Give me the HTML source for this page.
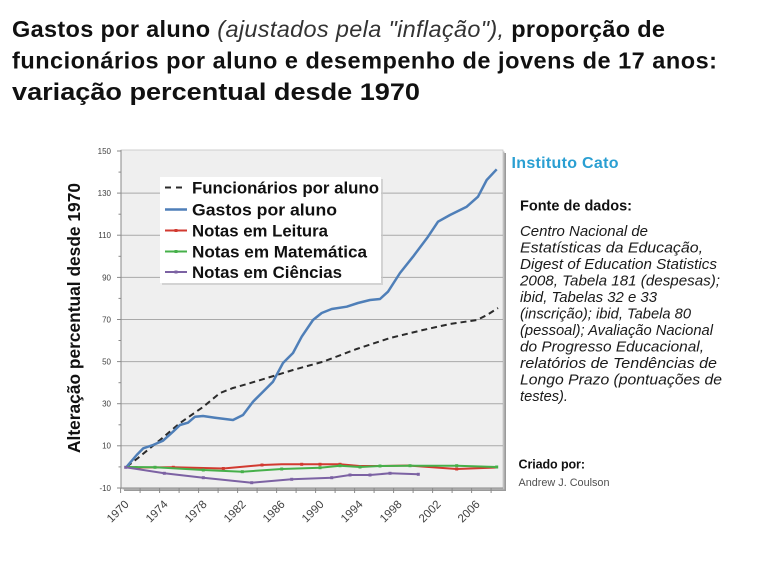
<!DOCTYPE html>
<html>
<head>
<meta charset="utf-8">
<style>
html,body{margin:0;padding:0;background:#fff;}
svg{display:block;font-family:"Liberation Sans",Arial,sans-serif;}
</style>
</head>
<body>
<svg width="761" height="578" viewBox="0 0 761 578" xmlns="http://www.w3.org/2000/svg">
<rect width="761" height="578" fill="#fff"/>

<!-- Title -->
<text x="12" y="37" font-size="23.5" font-weight="bold" fill="#111" textLength="653" lengthAdjust="spacing">Gastos por aluno <tspan font-weight="normal" font-style="italic" fill="#333">(ajustados pela "inflação"),</tspan> proporção de</text>
<text x="12" y="68.5" font-size="23.5" font-weight="bold" fill="#111" textLength="705" lengthAdjust="spacing">funcionários por aluno e desempenho de jovens de 17 anos:</text>
<text x="12" y="100" font-size="24" font-weight="bold" fill="#111" textLength="408" lengthAdjust="spacingAndGlyphs">variação percentual desde 1970</text>

<!-- Y axis title -->
<text transform="translate(80,318) rotate(-90)" text-anchor="middle" font-size="17.5" font-weight="bold" fill="#111" textLength="270" lengthAdjust="spacingAndGlyphs">Alteração percentual desde 1970</text>

<!-- Plot area shadow -->
<rect x="124" y="153" width="382" height="338" fill="#9a9a9a"/>
<rect x="122.5" y="151.5" width="382" height="338" fill="#bdbdbd"/>
<!-- Plot area -->
<rect x="121" y="150" width="382" height="338" fill="#efefef" stroke="#c4c4c4" stroke-width="0.8"/>

<!-- Gridlines -->
<g stroke="#a9a9a9" stroke-width="1">
<line x1="121" y1="193.1" x2="503" y2="193.1"/>
<line x1="121" y1="235.2" x2="503" y2="235.2"/>
<line x1="121" y1="277.4" x2="503" y2="277.4"/>
<line x1="121" y1="319.5" x2="503" y2="319.5"/>
<line x1="121" y1="361.6" x2="503" y2="361.6"/>
<line x1="121" y1="403.7" x2="503" y2="403.7"/>
<line x1="121" y1="445.8" x2="503" y2="445.8"/>
</g>

<!-- Y axis -->
<g stroke="#8a8a8a" stroke-width="1">
<line x1="121" y1="150" x2="121" y2="489"/>
<line x1="117" y1="151" x2="121" y2="151"/>
<line x1="117" y1="193.1" x2="121" y2="193.1"/>
<line x1="117" y1="235.2" x2="121" y2="235.2"/>
<line x1="117" y1="277.4" x2="121" y2="277.4"/>
<line x1="117" y1="319.5" x2="121" y2="319.5"/>
<line x1="117" y1="361.6" x2="121" y2="361.6"/>
<line x1="117" y1="403.7" x2="121" y2="403.7"/>
<line x1="117" y1="445.8" x2="121" y2="445.8"/>
<line x1="117" y1="488" x2="121" y2="488"/>
<line x1="118.5" y1="172.1" x2="121" y2="172.1"/>
<line x1="118.5" y1="214.2" x2="121" y2="214.2"/>
<line x1="118.5" y1="256.3" x2="121" y2="256.3"/>
<line x1="118.5" y1="298.4" x2="121" y2="298.4"/>
<line x1="118.5" y1="340.5" x2="121" y2="340.5"/>
<line x1="118.5" y1="382.7" x2="121" y2="382.7"/>
<line x1="118.5" y1="424.8" x2="121" y2="424.8"/>
<line x1="118.5" y1="466.9" x2="121" y2="466.9"/>
</g>

<!-- X axis ticks -->
<g stroke="#8a8a8a" stroke-width="1">
<line x1="121" y1="488" x2="503" y2="488"/>
<line x1="120.6" y1="488" x2="120.6" y2="493"/>
<line x1="140.1" y1="488" x2="140.1" y2="493"/>
<line x1="159.6" y1="488" x2="159.6" y2="493"/>
<line x1="179.1" y1="488" x2="179.1" y2="493"/>
<line x1="198.6" y1="488" x2="198.6" y2="493"/>
<line x1="218.1" y1="488" x2="218.1" y2="493"/>
<line x1="237.6" y1="488" x2="237.6" y2="493"/>
<line x1="257.1" y1="488" x2="257.1" y2="493"/>
<line x1="276.6" y1="488" x2="276.6" y2="493"/>
<line x1="296.1" y1="488" x2="296.1" y2="493"/>
<line x1="315.6" y1="488" x2="315.6" y2="493"/>
<line x1="335.1" y1="488" x2="335.1" y2="493"/>
<line x1="354.6" y1="488" x2="354.6" y2="493"/>
<line x1="374.1" y1="488" x2="374.1" y2="493"/>
<line x1="393.6" y1="488" x2="393.6" y2="493"/>
<line x1="413.1" y1="488" x2="413.1" y2="493"/>
<line x1="432.6" y1="488" x2="432.6" y2="493"/>
<line x1="452.1" y1="488" x2="452.1" y2="493"/>
<line x1="471.6" y1="488" x2="471.6" y2="493"/>
<line x1="491.1" y1="488" x2="491.1" y2="493"/>
</g>

<!-- Y tick labels -->
<g font-size="8" fill="#404040" text-anchor="end">
<text x="111" y="154">150</text>
<text x="111" y="196">130</text>
<text x="111" y="238">110</text>
<text x="111" y="280.3">90</text>
<text x="111" y="322.4">70</text>
<text x="111" y="364.5">50</text>
<text x="111" y="406.6">30</text>
<text x="111" y="448.7">10</text>
<text x="111" y="490.9">-10</text>
</g>

<!-- X tick labels -->
<g font-size="11.5" fill="#404040" text-anchor="end">
<text transform="translate(129.5,505) rotate(-45)">1970</text>
<text transform="translate(168.5,505) rotate(-45)">1974</text>
<text transform="translate(207.5,505) rotate(-45)">1978</text>
<text transform="translate(246.5,505) rotate(-45)">1982</text>
<text transform="translate(285.5,505) rotate(-45)">1986</text>
<text transform="translate(324.5,505) rotate(-45)">1990</text>
<text transform="translate(363.5,505) rotate(-45)">1994</text>
<text transform="translate(402.5,505) rotate(-45)">1998</text>
<text transform="translate(441.5,505) rotate(-45)">2002</text>
<text transform="translate(480.5,505) rotate(-45)">2006</text>
</g>

<!-- Series: dashed staff -->
<polyline fill="none" stroke="#2b2b2b" stroke-width="2" stroke-dasharray="6,4" points="126.7,466.7 138,458 160,440 180,423 203,407 220,393 233,388 247,384 267,378 293,370 323,361.7 356.7,349 390,338 423,330 450,324 477,320 487,315 498,308"/>

<!-- Series: spending -->
<polyline fill="none" stroke="#4f7fb8" stroke-width="2.5" stroke-linejoin="round" points="126.7,466.7 136.7,455 143.3,448.3 153,445 163,440.7 173,431.7 180,425 188,422.7 195,416.7 203,416 215,417.7 233,420 243,415 253,401.7 263,391.7 273,381.7 283,363 293,353 301.7,336.7 313,320 321.7,313 331.7,309 346.7,306.7 358,303 370,300 380,299 388,291.7 400,273 413,256.7 428,236.7 438,221.7 450,215 466.7,206.7 478,196.7 486.7,180 496.7,169.3"/>

<!-- Series: reading (red) -->
<polyline fill="none" stroke="#d23a30" stroke-width="2" points="125.7,467 136,467.5 173.3,467.3 223.3,468.5 262,465 281.7,464.3 301.7,464.3 320,464.3 340,464.3 359.5,466 379,466 408,465.5 456.7,469 496.7,467.5"/>
<g fill="#d23a30">
<rect x="134.5" y="466" width="3" height="3"/>
<rect x="171.8" y="465.8" width="3" height="3"/>
<rect x="221.8" y="467" width="3" height="3"/>
<rect x="260.5" y="463.5" width="3" height="3"/>
<rect x="300.2" y="462.8" width="3" height="3"/>
<rect x="318.5" y="462.8" width="3" height="3"/>
<rect x="338.5" y="462.8" width="3" height="3"/>
<rect x="455.2" y="467.5" width="3" height="3"/>
</g>

<!-- Series: math (green) -->
<polyline fill="none" stroke="#46b04a" stroke-width="2" points="125.7,467 155,467.3 203.3,470 242.3,471.7 281.7,469 320,467.7 340,465.7 360,467 380,466 410,465.7 456.7,465.7 496.7,467"/>
<g fill="#46b04a">
<rect x="153.5" y="465.8" width="3" height="3"/>
<rect x="201.8" y="468.5" width="3" height="3"/>
<rect x="240.8" y="470.2" width="3" height="3"/>
<rect x="280.2" y="467.5" width="3" height="3"/>
<rect x="318.5" y="466.2" width="3" height="3"/>
<rect x="338.5" y="464.2" width="3" height="3"/>
<rect x="358.5" y="465.5" width="3" height="3"/>
<rect x="378.5" y="464.5" width="3" height="3"/>
<rect x="408.5" y="464.2" width="3" height="3"/>
<rect x="455.2" y="464.2" width="3" height="3"/>
<rect x="495.2" y="465.5" width="3" height="3"/>
</g>

<!-- Series: science (purple) -->
<polyline fill="none" stroke="#7c62a3" stroke-width="2" points="125.7,467.3 164.3,473.3 203.3,477.7 251.7,482.7 291.7,479.3 331.7,477.7 350,475 370,475 390,473.3 418.3,474.3"/>
<g fill="#7c62a3">
<rect x="124.2" y="465.8" width="3" height="3"/>
<rect x="162.8" y="471.8" width="3" height="3"/>
<rect x="201.8" y="476.2" width="3" height="3"/>
<rect x="250.2" y="481.2" width="3" height="3"/>
<rect x="290.2" y="477.8" width="3" height="3"/>
<rect x="330.2" y="476.2" width="3" height="3"/>
<rect x="348.5" y="473.5" width="3" height="3"/>
<rect x="368.5" y="473.5" width="3" height="3"/>
<rect x="388.5" y="471.8" width="3" height="3"/>
<rect x="416.8" y="472.8" width="3" height="3"/>
</g>

<!-- Legend -->
<rect x="162" y="179" width="221" height="106" fill="#c8c8c8" opacity="0.7"/>
<rect x="160" y="177" width="221" height="106" fill="#ffffff"/>
<line x1="165" y1="187.5" x2="187" y2="187.5" stroke="#2b2b2b" stroke-width="2" stroke-dasharray="6,5"/>
<line x1="165" y1="209.5" x2="187" y2="209.5" stroke="#4f7fb8" stroke-width="2.5"/>
<line x1="165" y1="230.5" x2="187" y2="230.5" stroke="#d23a30" stroke-width="2"/>
<rect x="174.5" y="229" width="3" height="3" fill="#d23a30"/>
<line x1="165" y1="251.5" x2="187" y2="251.5" stroke="#46b04a" stroke-width="2"/>
<rect x="174.5" y="250" width="3" height="3" fill="#46b04a"/>
<line x1="165" y1="272" x2="187" y2="272" stroke="#7c62a3" stroke-width="2"/>
<rect x="174.5" y="270.5" width="3" height="3" fill="#7c62a3"/>
<g font-size="17" font-weight="bold" fill="#111">
<text x="192" y="193.5" textLength="187" lengthAdjust="spacingAndGlyphs">Funcionários por aluno</text>
<text x="192" y="215.5" textLength="145" lengthAdjust="spacingAndGlyphs">Gastos por aluno</text>
<text x="192" y="236.5" textLength="136" lengthAdjust="spacingAndGlyphs">Notas em Leitura</text>
<text x="192" y="257.5" textLength="175" lengthAdjust="spacingAndGlyphs">Notas em Matemática</text>
<text x="192" y="278" textLength="150" lengthAdjust="spacingAndGlyphs">Notas em Ciências</text>
</g>

<!-- Right side text -->
<text x="511.5" y="168" font-size="16" font-weight="bold" fill="#2a9fd2" textLength="107" lengthAdjust="spacing">Instituto Cato</text>
<text x="520" y="210.5" font-size="14.5" font-weight="bold" fill="#111" textLength="112" lengthAdjust="spacing">Fonte de dados:</text>
<g font-size="14.5" font-style="italic" fill="#1a1a1a">
<text x="520" y="236" textLength="128" lengthAdjust="spacingAndGlyphs">Centro Nacional de</text>
<text x="520" y="252.5" textLength="183" lengthAdjust="spacingAndGlyphs">Estatísticas da Educação,</text>
<text x="520" y="269" textLength="197" lengthAdjust="spacingAndGlyphs">Digest of Education Statistics</text>
<text x="520" y="285.5" textLength="200" lengthAdjust="spacingAndGlyphs">2008, Tabela 181 (despesas);</text>
<text x="520" y="302" textLength="137" lengthAdjust="spacingAndGlyphs">ibid, Tabelas 32 e 33</text>
<text x="520" y="318.5" textLength="171" lengthAdjust="spacingAndGlyphs">(inscrição); ibid, Tabela 80</text>
<text x="520" y="335" textLength="193" lengthAdjust="spacingAndGlyphs">(pessoal); Avaliação Nacional</text>
<text x="520" y="351.5" textLength="184" lengthAdjust="spacingAndGlyphs">do Progresso Educacional,</text>
<text x="520" y="368" textLength="197" lengthAdjust="spacingAndGlyphs">relatórios de Tendências de</text>
<text x="520" y="384.5" textLength="202" lengthAdjust="spacingAndGlyphs">Longo Prazo (pontuações de</text>
<text x="520" y="401" textLength="48" lengthAdjust="spacingAndGlyphs">testes).</text>
</g>
<text x="518.5" y="468.5" font-size="12.5" font-weight="bold" fill="#111" textLength="66.5" lengthAdjust="spacing">Criado por:</text>
<text x="518.5" y="486" font-size="11" fill="#505050" textLength="91" lengthAdjust="spacingAndGlyphs">Andrew J. Coulson</text>
</svg>
</body>
</html>
